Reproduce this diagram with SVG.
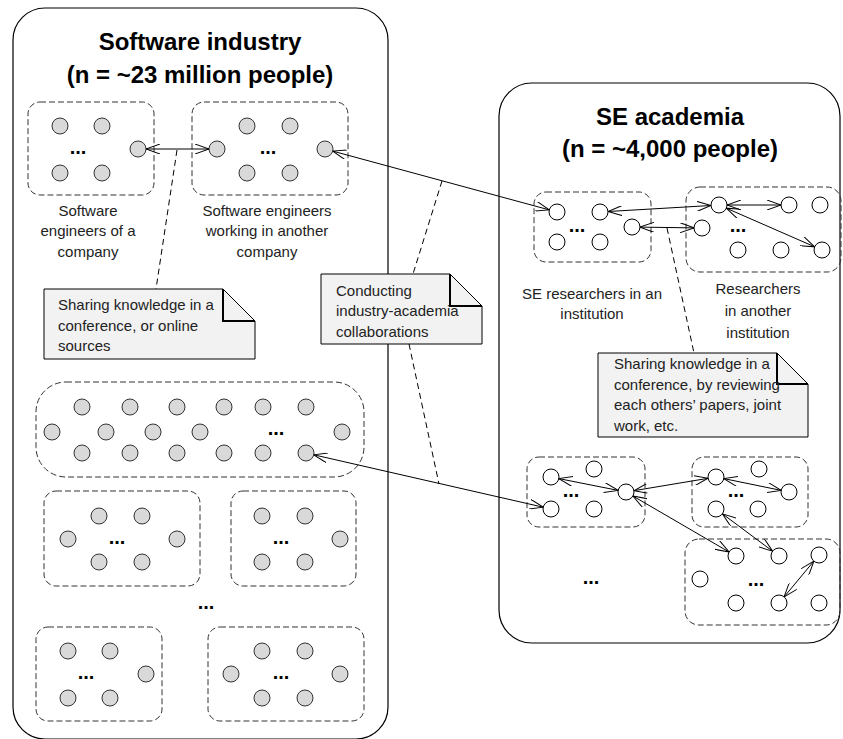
<svg xmlns="http://www.w3.org/2000/svg" width="843" height="739" viewBox="0 0 843 739">
<style>
.panel{fill:#fff;stroke:#000;stroke-width:1.2}
.grp{fill:none;stroke:#333;stroke-width:1;stroke-dasharray:6 3}
.ci{fill:#d9d9d9;stroke:#333;stroke-width:1}
.ca{fill:#fff;stroke:#000;stroke-width:1}
.title{font-family:"Liberation Sans",Arial,sans-serif;font-weight:bold;font-size:24px;fill:#000;text-anchor:middle}
.lbl{font-family:"Liberation Sans",Arial,sans-serif;font-size:15px;fill:#222;text-anchor:middle}
.nt{font-family:"Liberation Sans",Arial,sans-serif;font-size:15px;fill:#222}
.dots{font-family:"Liberation Sans",Arial,sans-serif;font-weight:bold;font-size:20px;fill:#000;text-anchor:middle}
.note{fill:#f2f2f2;stroke:#000;stroke-width:1}
.fold{fill:none;stroke:#000;stroke-width:2}
.conn{fill:none;stroke:#000;stroke-width:1;marker-start:url(#ah);marker-end:url(#ah)}
.dash{fill:none;stroke:#000;stroke-width:1;stroke-dasharray:6 4}
</style>
<defs>
<marker id="ah" viewBox="0 0 14 10" refX="14" refY="5" markerWidth="14" markerHeight="10" orient="auto-start-reverse" markerUnits="userSpaceOnUse">
<path d="M0,0 L14,5 L0,10" fill="none" stroke="#000" stroke-width="1"/>
</marker>
</defs>

<g id="industry">
<rect class="panel" x="13" y="8" width="375" height="731" rx="32"/>
<text class="title" x="200" y="50">Software industry</text>
<text class="title" x="200" y="83">(n = ~23 million people)</text>
</g>

<g id="academia">
<rect class="panel" x="499" y="83" width="341" height="560" rx="33"/>
<text class="title" x="670" y="125">SE academia</text>
<text class="title" x="670" y="157">(n = ~4,000 people)</text>
</g>

<g id="company1">
<rect class="grp" x="28" y="102" width="126" height="93" rx="12"/>
<circle class="ci" cx="60" cy="126" r="8"/><circle class="ci" cx="102" cy="126" r="8"/>
<circle class="ci" cx="60" cy="173" r="8"/><circle class="ci" cx="102" cy="173" r="8"/>
<circle class="ci" cx="138" cy="149" r="8"/>
<text class="dots" x="78" y="154">...</text>
<text class="lbl" x="88" y="216">Software</text>
<text class="lbl" x="88" y="236">engineers of a</text>
<text class="lbl" x="88" y="257">company</text>
</g>

<g id="company2">
<rect class="grp" x="192" y="102" width="156" height="93" rx="12"/>
<circle class="ci" cx="217" cy="149" r="8"/>
<circle class="ci" cx="247" cy="126" r="8"/><circle class="ci" cx="290" cy="126" r="8"/>
<circle class="ci" cx="247" cy="173" r="8"/><circle class="ci" cx="290" cy="173" r="8"/>
<circle class="ci" cx="325" cy="149" r="8"/>
<text class="dots" x="268" y="154">...</text>
<text class="lbl" x="267" y="216">Software engineers</text>
<text class="lbl" x="267" y="236">working in another</text>
<text class="lbl" x="267" y="257">company</text>
</g>

<g id="bigcompany">
<rect class="grp" x="36" y="382" width="328" height="95" rx="30"/>
<circle class="ci" cx="82" cy="407" r="8"/><circle class="ci" cx="130" cy="407" r="8"/><circle class="ci" cx="177" cy="407" r="8"/>
<circle class="ci" cx="224" cy="407" r="8"/><circle class="ci" cx="263" cy="407" r="8"/><circle class="ci" cx="306" cy="407" r="8"/>
<circle class="ci" cx="52" cy="432" r="8"/><circle class="ci" cx="106" cy="432" r="8"/><circle class="ci" cx="153" cy="432" r="8"/>
<circle class="ci" cx="200" cy="432" r="8"/><circle class="ci" cx="342" cy="432" r="8"/>
<circle class="ci" cx="82" cy="453" r="8"/><circle class="ci" cx="130" cy="453" r="8"/><circle class="ci" cx="177" cy="453" r="8"/>
<circle class="ci" cx="224" cy="453" r="8"/><circle class="ci" cx="263" cy="453" r="8"/><circle class="ci" cx="306" cy="453" r="8"/>
<text class="dots" x="276" y="435">...</text>
</g>

<g id="companyF">
<rect class="grp" x="44" y="491" width="156" height="95" rx="12"/>
<circle class="ci" cx="99" cy="516" r="8"/><circle class="ci" cx="142" cy="516" r="8"/>
<circle class="ci" cx="68" cy="539" r="8"/><circle class="ci" cx="177" cy="539" r="8"/>
<circle class="ci" cx="99" cy="562" r="8"/><circle class="ci" cx="142" cy="562" r="8"/>
<text class="dots" x="117" y="544">...</text>
</g>

<g id="companyG">
<rect class="grp" x="231" y="491" width="125" height="95" rx="12"/>
<circle class="ci" cx="262" cy="516" r="8"/><circle class="ci" cx="305" cy="516" r="8"/>
<circle class="ci" cx="340" cy="539" r="8"/>
<circle class="ci" cx="262" cy="562" r="8"/><circle class="ci" cx="305" cy="562" r="8"/>
<text class="dots" x="281" y="544">...</text>
</g>

<text class="dots" x="206" y="609">...</text>

<g id="companyH">
<rect class="grp" x="36" y="627" width="126" height="94" rx="12"/>
<circle class="ci" cx="68" cy="651" r="8"/><circle class="ci" cx="110" cy="651" r="8"/>
<circle class="ci" cx="146" cy="674" r="8"/>
<circle class="ci" cx="68" cy="698" r="8"/><circle class="ci" cx="110" cy="698" r="8"/>
<text class="dots" x="86" y="679">...</text>
</g>

<g id="companyI">
<rect class="grp" x="208" y="627" width="156" height="94" rx="12"/>
<circle class="ci" cx="262" cy="651" r="8"/><circle class="ci" cx="305" cy="651" r="8"/>
<circle class="ci" cx="231" cy="674" r="8"/><circle class="ci" cx="340" cy="674" r="8"/>
<circle class="ci" cx="262" cy="698" r="8"/><circle class="ci" cx="305" cy="698" r="8"/>
<text class="dots" x="281" y="679">...</text>
</g>

<g id="instA">
<rect class="grp" x="534" y="192" width="117" height="70" rx="12"/>
<circle class="ca" cx="557" cy="212" r="8"/><circle class="ca" cx="600" cy="212" r="8"/>
<circle class="ca" cx="557" cy="242" r="8"/><circle class="ca" cx="600" cy="242" r="8"/>
<circle class="ca" cx="632" cy="227" r="8"/>
<text class="dots" x="577" y="232">...</text>
<text class="lbl" x="592" y="299">SE researchers in an</text>
<text class="lbl" x="592" y="319">institution</text>
</g>

<g id="instB">
<rect class="grp" x="686" y="187" width="155" height="85" rx="14"/>
<circle class="ca" cx="719" cy="205" r="8"/><circle class="ca" cx="789" cy="205" r="8"/><circle class="ca" cx="820" cy="205" r="8"/>
<circle class="ca" cx="702" cy="228" r="8"/>
<circle class="ca" cx="738" cy="250" r="8"/><circle class="ca" cx="781" cy="250" r="8"/><circle class="ca" cx="822" cy="250" r="8"/>
<text class="dots" x="738" y="232">...</text>
<text class="lbl" x="758" y="294">Researchers</text>
<text class="lbl" x="758" y="316">in another</text>
<text class="lbl" x="758" y="338">institution</text>
</g>

<g id="instC">
<rect class="grp" x="527" y="457" width="118" height="70" rx="12"/>
<circle class="ca" cx="551" cy="477" r="8"/><circle class="ca" cx="594" cy="469" r="8"/>
<circle class="ca" cx="551" cy="509" r="8"/><circle class="ca" cx="594" cy="509" r="8"/>
<circle class="ca" cx="626" cy="492" r="8"/>
<text class="dots" x="571" y="497">...</text>
</g>

<g id="instD">
<rect class="grp" x="692" y="457" width="116" height="70" rx="12"/>
<circle class="ca" cx="716" cy="477" r="8"/><circle class="ca" cx="759" cy="469" r="8"/>
<circle class="ca" cx="789" cy="492" r="8"/>
<circle class="ca" cx="716" cy="509" r="8"/><circle class="ca" cx="758" cy="509" r="8"/>
<text class="dots" x="736" y="497">...</text>
</g>

<g id="instE">
<rect class="grp" x="685" y="539" width="155" height="86" rx="14"/>
<circle class="ca" cx="736" cy="556" r="8"/><circle class="ca" cx="779" cy="556" r="8"/><circle class="ca" cx="819" cy="555" r="8"/>
<circle class="ca" cx="700" cy="579" r="8"/>
<circle class="ca" cx="736" cy="603" r="8"/><circle class="ca" cx="779" cy="603" r="8"/><circle class="ca" cx="819" cy="603" r="8"/>
<text class="dots" x="756" y="586">...</text>
</g>

<text class="dots" x="591" y="584">...</text>

<g id="note1">
<path class="note" d="M44,289 H223 L255,321 V359 H44 Z"/>
<path class="fold" d="M223,289 V321 H255"/>
<text class="nt" x="58" y="310">Sharing knowledge in a</text>
<text class="nt" x="58" y="331">conference, or online</text>
<text class="nt" x="58" y="351">sources</text>
</g>

<g id="note2">
<path class="note" d="M321,274 H450 L482,306 V344 H321 Z"/>
<path class="fold" d="M450,274 V306 H482"/>
<text class="nt" x="336" y="296">Conducting</text>
<text class="nt" x="336" y="316">industry-academia</text>
<text class="nt" x="336" y="337">collaborations</text>
</g>

<g id="note3">
<path class="note" d="M598,353 H777 L808,384 V437 H598 Z"/>
<path class="fold" d="M777,353 V384 H808"/>
<text class="nt" x="614" y="369">Sharing knowledge in a</text>
<text class="nt" x="614" y="390">conference, by reviewing</text>
<text class="nt" x="614" y="410">each others’ papers, joint</text>
<text class="nt" x="614" y="431">work, etc.</text>
</g>

<g id="connectors">
<line class="conn" x1="146" y1="149" x2="209" y2="149"/>
<line class="conn" x1="332.7" y1="151.1" x2="549.3" y2="209.9"/>
<line class="conn" x1="608" y1="211.5" x2="711" y2="205.5"/>
<line class="conn" x1="640" y1="227.1" x2="694" y2="227.9"/>
<line class="conn" x1="727" y1="205" x2="781" y2="205"/>
<line class="conn" x1="726.3" y1="208.2" x2="814.7" y2="246.8"/>
<line class="conn" x1="313.8" y1="454.8" x2="543.2" y2="507.2"/>
<line class="conn" x1="558.8" y1="478.6" x2="618.2" y2="490.4"/>
<line class="conn" x1="633.9" y1="490.7" x2="708.1" y2="478.3"/>
<line class="conn" x1="632.9" y1="496" x2="729.1" y2="552"/>
<line class="conn" x1="723.8" y1="478.6" x2="781.2" y2="490.4"/>
<line class="conn" x1="722.4" y1="513.8" x2="772.6" y2="551.2"/>
<line class="conn" x1="813.9" y1="561.1" x2="784.1" y2="596.9"/>
<line class="dash" x1="177" y1="150" x2="156" y2="289"/>
<line class="dash" x1="442" y1="181" x2="413" y2="274"/>
<line class="dash" x1="409" y1="344" x2="439" y2="484"/>
<line class="dash" x1="667" y1="228" x2="694" y2="353"/>
</g>
</svg>
